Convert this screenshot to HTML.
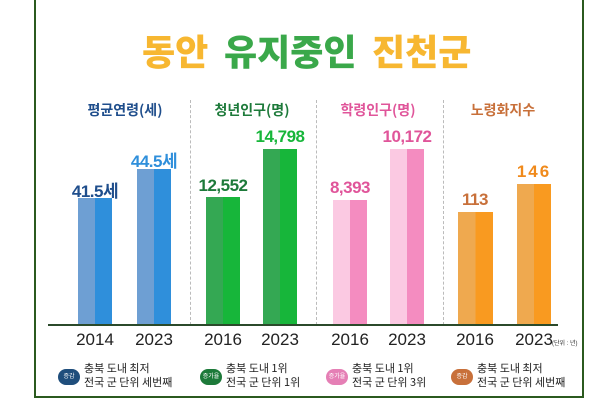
<!DOCTYPE html>
<html><head><meta charset="utf-8"><style>
body{margin:0;width:600px;height:402px;background:#fff;position:relative;overflow:hidden;font-family:"Liberation Sans","Noto Sans CJK KR",sans-serif}
.a{position:absolute}
.frame{left:34px;top:-2px;width:550px;height:400px;border:2px solid #2b5a1f;box-sizing:border-box}
.t{font-family:"Noto Sans CJK KR",sans-serif;font-weight:900;font-size:36px;top:24px;white-space:nowrap}
.h{top:100px;font-family:"Noto Sans CJK KR",sans-serif;font-weight:700;font-size:14px;text-align:center;width:120px}
.bar{position:absolute}
.v{position:absolute;font-weight:700;font-size:17px;text-align:center;width:80px;letter-spacing:-0.5px}
.y{position:absolute;top:330px;font-size:17px;width:70px;text-align:center;color:#222}
.sep{position:absolute;top:100px;height:225px;border-left:1px dashed #bbb}
.pill{position:absolute;top:369px;width:22px;height:16px;border-radius:8px;color:#fff;font-size:6px;text-align:center;line-height:16px}
.lg{position:absolute;top:361px;font-size:11px;line-height:14px;color:#222;font-family:"Noto Sans CJK KR",sans-serif}
</style></head><body>
<div class="a frame"></div>
<div class="a t" style="left:142px;color:#f7b731">동안</div>
<div class="a t" style="left:224px;color:#3aa84a">유지중인</div>
<div class="a t" style="left:372px;color:#f7b731">진천군</div>
<div class="a h" style="left:65px;color:#1f4e8c">평균연령(세)</div>
<div class="a h" style="left:192px;color:#1d7a3a">청년인구(명)</div>
<div class="a h" style="left:318px;color:#e0559a">학령인구(명)</div>
<div class="a h" style="left:443px;color:#c8703a">노령화지수</div>
<div class="sep" style="left:190px"></div><div class="sep" style="left:316px"></div><div class="sep" style="left:443px"></div>

<div class="bar" style="left:78px;top:198px;width:34px;height:127px;background:linear-gradient(90deg,#6e9fd3 50%,#2f8fdb 50%)"></div>
<div class="bar" style="left:137px;top:169px;width:34px;height:156px;background:linear-gradient(90deg,#6e9fd3 50%,#2f8fdb 50%)"></div>
<div class="bar" style="left:206px;top:197px;width:34px;height:128px;background:linear-gradient(90deg,#34a853 50%,#17b63a 50%)"></div>
<div class="bar" style="left:263px;top:149px;width:34px;height:176px;background:linear-gradient(90deg,#34a853 50%,#17b63a 50%)"></div>
<div class="bar" style="left:333px;top:200px;width:34px;height:125px;background:linear-gradient(90deg,#fbc9e2 50%,#f48cc0 50%)"></div>
<div class="bar" style="left:390px;top:149px;width:34px;height:176px;background:linear-gradient(90deg,#fbc9e2 50%,#f48cc0 50%)"></div>
<div class="bar" style="left:458px;top:212px;width:35px;height:113px;background:linear-gradient(90deg,#efa94f 50%,#f99a20 50%)"></div>
<div class="bar" style="left:517px;top:184px;width:34px;height:141px;background:linear-gradient(90deg,#efa94f 50%,#f99a20 50%)"></div>

<div class="v" style="left:55px;top:177px;color:#1f4e8c">41.5세</div>
<div class="v" style="left:114px;top:147px;color:#2f8fdb">44.5세</div>
<div class="v" style="left:183px;top:176px;color:#1d7a3a">12,552</div>
<div class="v" style="left:240px;top:127px;color:#17b63a">14,798</div>
<div class="v" style="left:310px;top:178px;color:#e0559a">8,393</div>
<div class="v" style="left:367px;top:127px;color:#e0559a">10,172</div>
<div class="v" style="left:435px;top:190px;color:#c8703a">113</div>
<div class="v" style="left:494px;top:162px;color:#f08a1c;letter-spacing:2px">146</div>

<div class="a" style="left:48px;top:324px;width:510px;height:2px;background:#2b4a2b"></div>
<div class="y" style="left:60px">2014</div><div class="y" style="left:119px">2023</div>
<div class="y" style="left:188px">2016</div><div class="y" style="left:245px">2023</div>
<div class="y" style="left:315px">2016</div><div class="y" style="left:372px">2023</div>
<div class="y" style="left:440px">2016</div><div class="y" style="left:499px">2023</div>
<div class="a" style="left:552px;top:338px;font-size:6px;color:#333">(단위 : 년)</div>

<div class="pill" style="left:58px;background:#1f4e7c">증감</div>
<div class="lg" style="left:84px">충북 도내 최저<br>전국 군 단위 세번째</div>
<div class="pill" style="left:200px;background:#1d7a3a">증가율</div>
<div class="lg" style="left:226px">충북 도내 1위<br>전국 군 단위 1위</div>
<div class="pill" style="left:326px;background:#e57fb5">증가율</div>
<div class="lg" style="left:352px">충북 도내 1위<br>전국 군 단위 3위</div>
<div class="pill" style="left:451px;background:#c8703a">증감</div>
<div class="lg" style="left:477px">충북 도내 최저<br>전국 군 단위 세번째</div>
</body></html>
